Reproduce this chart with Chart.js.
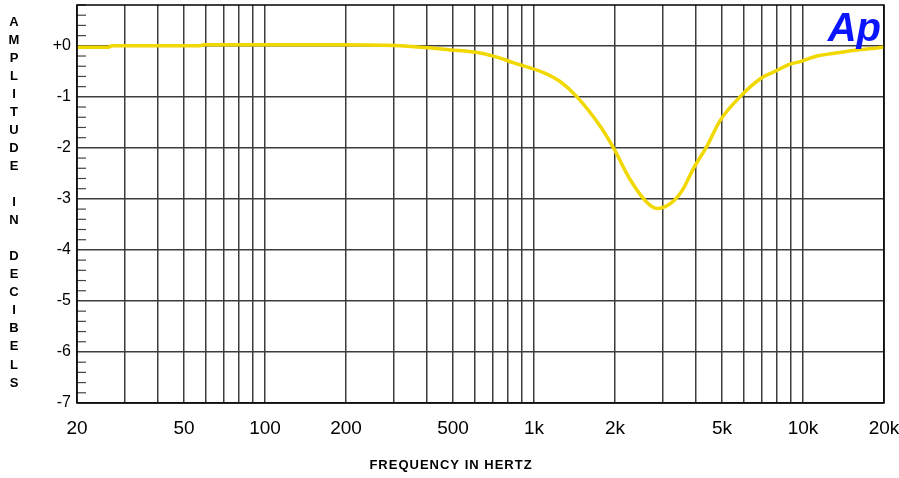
<!DOCTYPE html>
<html>
<head>
<meta charset="utf-8">
<script src="https://cdn.jsdelivr.net/npm/chart.js@4"></script>
<style>
  html, body { margin: 0; padding: 0; background: #fff; }
  #wrap { width: 899px; height: 478px; }
</style>
</head>
<body>
<div id="wrap"><canvas id="chart" width="899" height="478"></canvas></div>
<script>
// Frequency response (Hz) and level (dB)
const freqs = [20, 26, 27, 57, 59, 190, 318, 488, 630, 748, 836, 1080, 1250, 1445, 1760, 1970,
  2270, 2630, 2890, 3290, 3580, 3900, 4400, 4910, 5830, 6920, 7870, 8950, 9750, 11270, 12900, 15900, 20000];
const levels = [-0.03, -0.03, 0.0, 0.0, 0.02, 0.02, 0.0, -0.08, -0.14, -0.24, -0.33, -0.52, -0.7, -1.0, -1.57, -1.99,
  -2.61, -3.07, -3.19, -3.05, -2.81, -2.42, -1.96, -1.47, -1.0, -0.65, -0.5, -0.36, -0.31, -0.2, -0.15, -0.08, -0.03];

// axis ticks
const xGridLines = [20, 30, 40, 50, 60, 70, 80, 90, 100, 200, 300, 400, 500, 600, 700, 800, 900,
  1000, 2000, 3000, 4000, 5000, 6000, 7000, 8000, 9000, 10000, 20000];
const xLabels = { 20: "20", 50: "50", 100: "100", 200: "200", 500: "500", 1000: "1k", 2000: "2k",
  5000: "5k", 10000: "10k", 20000: "20k" };
const yTicks = [0, -1, -2, -3, -4, -5, -6, -7];
const yLabelLetters = ["A", "M", "P", "L", "I", "T", "U", "D", "E", "", "I", "N", "", "D", "E", "C", "I", "B", "E", "L", "S"];

const points = freqs.map((f, i) => ({ x: f, y: levels[i] }));

// frame, minor ticks, side labels and logo
const decorPlugin = {
  id: "decor",
  afterDraw(chart) {
    const { ctx, chartArea: a, scales } = chart;
    const y = scales.y;
    ctx.save();
    // minor ticks every 0.2 dB on the left edge
    ctx.strokeStyle = "#444";
    ctx.lineWidth = 1.2;
    for (let v = -7; v <= 0.8001; v += 0.2) {
      const r = Math.round(v * 10) / 10;
      if (Math.abs(r - Math.round(r)) < 0.01) continue;
      const py = y.getPixelForValue(r);
      ctx.beginPath();
      ctx.moveTo(a.left, py);
      ctx.lineTo(a.left + 9, py);
      ctx.stroke();
    }
    // frame
    ctx.strokeStyle = "#000";
    ctx.lineWidth = 1.5;
    ctx.strokeRect(a.left, a.top, a.right - a.left, a.bottom - a.top);

    // vertical axis title, one letter per line
    ctx.fillStyle = "#000";
    ctx.font = "bold 13px 'Liberation Sans', Arial, sans-serif";
    ctx.textAlign = "center";
    ctx.textBaseline = "middle";
    yLabelLetters.forEach((ch, i) => {
      if (ch) ctx.fillText(ch, 14, 22 + i * 18.05);
    });

    // x axis title
    ctx.font = "bold 13px 'Liberation Sans', Arial, sans-serif";
    ctx.letterSpacing = "1px";
    ctx.fillText("FREQUENCY IN HERTZ", 451, 465);
    ctx.letterSpacing = "0px";

    // Ap logo
    ctx.fillStyle = "#0a14ff";
    ctx.font = "italic bold 40px 'Liberation Sans', Arial, sans-serif";
    ctx.textAlign = "right";
    ctx.textBaseline = "alphabetic";
    ctx.fillText("Ap", 881, 41);
    ctx.restore();
  }
};

const ctx = document.getElementById("chart").getContext("2d");
new Chart(ctx, {
  type: "line",
  data: {
    datasets: [
      {
        data: points,
        borderColor: "#f0d800",
        borderWidth: 3.5,
        pointRadius: 0,
        fill: false,
        cubicInterpolationMode: "monotone",
      },
    ],
  },
  options: {
    responsive: false,
    animation: false,
    layout: {
      padding: { top: 5, right: 15, bottom: 0, left: 0 },
    },
    scales: {
      x: {
        type: "logarithmic",
        min: 20,
        max: 20000,
        afterBuildTicks: (scale) => {
          scale.ticks = xGridLines.map((v) => ({ value: v }));
        },
        afterFit: (scale) => {
          scale.height = 75;
          // labels may spill past the plot edges, as in the original
          scale.paddingLeft = 0;
          scale.paddingRight = 0;
        },
        border: { display: false },
        grid: {
          drawTicks: false,
          color: "#3c3c3c",
          lineWidth: 1.5,
        },
        ticks: {
          autoSkip: false,
          maxRotation: 0,
          padding: 14,
          color: "#000",
          font: { size: 19, family: "'Liberation Sans', Arial, sans-serif" },
          callback: (value) => xLabels[value] || "",
        },
      },
      y: {
        min: -7,
        max: 0.8,
        afterBuildTicks: (scale) => {
          scale.ticks = yTicks.map((v) => ({ value: v }));
        },
        afterFit: (scale) => {
          scale.width = 77;
          scale.paddingTop = 0;
          scale.paddingBottom = 0;
        },
        border: { display: false },
        grid: {
          drawTicks: false,
          color: "#3c3c3c",
          lineWidth: 1.5,
        },
        ticks: {
          padding: 6,
          color: "#000",
          font: { size: 16, family: "'Liberation Sans', Arial, sans-serif" },
          callback: (value) => (value === 0 ? "+0" : String(value)),
        },
      },
    },
    plugins: {
      legend: { display: false },
      title: { display: false },
      tooltip: { enabled: false },
    },
  },
  plugins: [decorPlugin],
});
</script>
</body>
</html>
